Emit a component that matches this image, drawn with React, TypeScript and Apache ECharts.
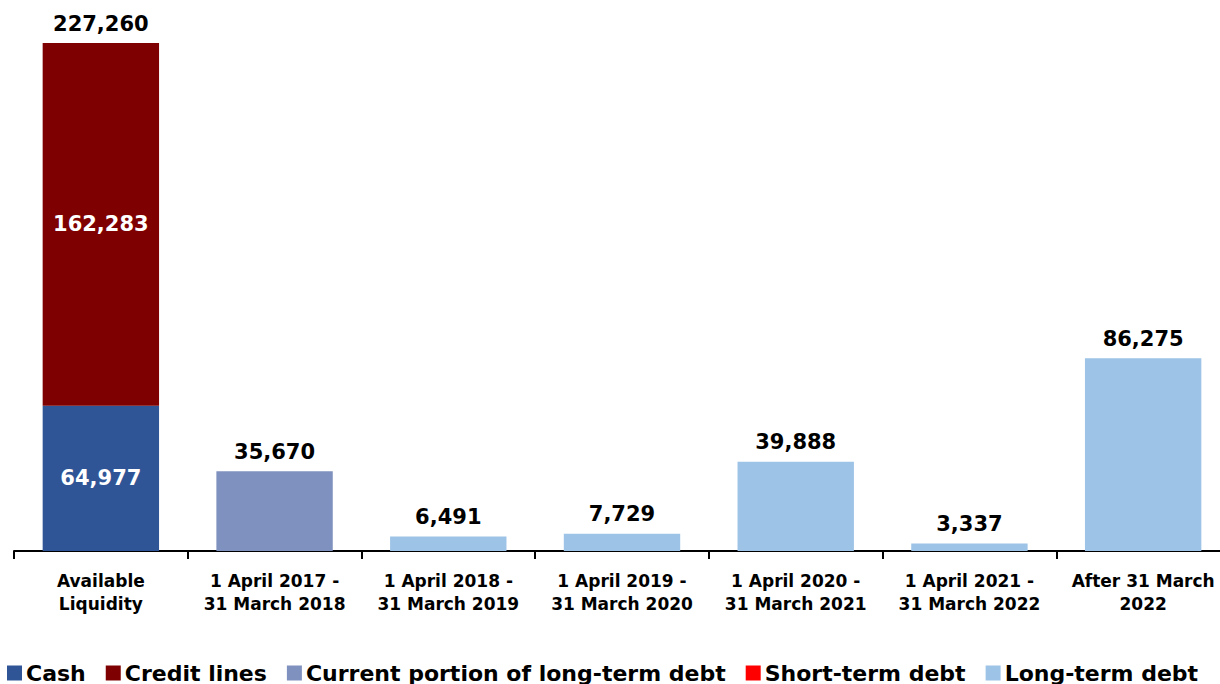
import React, { useEffect, useRef } from "react";
import * as echarts from "echarts";

const categories = [
  "Available\nLiquidity",
  "1 April 2017 -\n31 March 2018",
  "1 April 2018 -\n31 March 2019",
  "1 April 2019 -\n31 March 2020",
  "1 April 2020 -\n31 March 2021",
  "1 April 2021 -\n31 March 2022",
  "After 31 March\n2022",
];
const cash = [64977, null, null, null, null, null, null];
const creditLines = [162283, null, null, null, null, null, null];
const currentPortion = [null, 35670, null, null, null, null, null];
const shortTermDebt = [null, null, null, null, null, null, null];
const longTermDebt = [null, null, 6491, 7729, 39888, 3337, 86275];

const FONT = "DejaVu Sans";

export default function App() {
  const ref = useRef<HTMLDivElement>(null);
  useEffect(() => {
    if (!ref.current) return;
    const chart = echarts.init(ref.current, null, { renderer: "svg" });
    const totals = categories.map((_, i) =>
      [cash, creditLines, currentPortion, shortTermDebt, longTermDebt].reduce(
        (s, arr) => s + (arr[i] ?? 0),
        0
      )
    );
    const fmt = (v: number) => v.toLocaleString("en-US");
    const base = {
      type: "bar",
      stack: "total",
      barCategoryGap: "33%",
    };
    chart.setOption({
      animation: false,
      textStyle: { fontFamily: FONT },
      grid: {
        left: 14,
        width: 1216,
        top: 43,
        height: 508,
        containLabel: false,
        outerBoundsMode: "none",
      },
      legend: {
        left: 2,
        top: 657,
        width: 2000,
        icon: "rect",
        itemWidth: 15,
        itemHeight: 15,
        itemGap: 20,
        data: ["Cash", "Credit lines", "Current portion of long-term debt", "Short-term debt", "Long-term debt"],
        textStyle: { fontFamily: FONT, fontWeight: "bold", fontSize: 22, color: "#000", padding: [0, 0, 0, -1] },
      },
      xAxis: {
        type: "category",
        data: categories,
        axisLine: { lineStyle: { color: "#000", width: 2 } },
        axisTick: { show: true, length: 8, lineStyle: { color: "#000", width: 2 } },
        axisLabel: {
          fontFamily: FONT,
          fontWeight: "bold",
          fontSize: 17,
          color: "#000",
          lineHeight: 23,
          margin: 18,
          interval: 0,
        },
      },
      yAxis: {
        type: "value",
        min: 0,
        max: 227260,
        show: false,
        splitLine: { show: false },
      },
      series: [
        {
          ...base,
          name: "Cash",
          data: cash,
          itemStyle: { color: "#2F5597" },
          label: { show: true, position: "inside", color: "#fff", fontWeight: "bold", fontSize: 21, fontFamily: FONT, formatter: (p: any) => fmt(p.value) },
        },
        {
          ...base,
          name: "Credit lines",
          data: creditLines,
          itemStyle: { color: "#7F0000" },
          label: { show: true, position: "inside", color: "#fff", fontWeight: "bold", fontSize: 21, fontFamily: FONT, formatter: (p: any) => fmt(p.value) },
        },
        {
          ...base,
          name: "Current portion of long-term debt",
          data: currentPortion,
          itemStyle: { color: "#7F91BE" },
        },
        {
          ...base,
          name: "Short-term debt",
          data: shortTermDebt,
          itemStyle: { color: "#FF0000" },
        },
        {
          ...base,
          name: "Long-term debt",
          data: longTermDebt,
          itemStyle: { color: "#9DC3E6" },
        },
        {
          ...base,
          name: "Total",
          data: totals.map(() => 0),
          itemStyle: { color: "transparent" },
          label: {
            show: true,
            position: "top",
            distance: 9,
            color: "#000",
            fontWeight: "bold",
            fontSize: 21,
            fontFamily: FONT,
            formatter: (p: any) => fmt(totals[p.dataIndex]),
          },
        },
      ],
    });
    return () => chart.dispose();
  }, []);
  return (
    <div
      ref={ref}
      style={{ position: "fixed", left: 0, top: 0, width: 1220, height: 684, background: "#fff" }}
    />
  );
}
